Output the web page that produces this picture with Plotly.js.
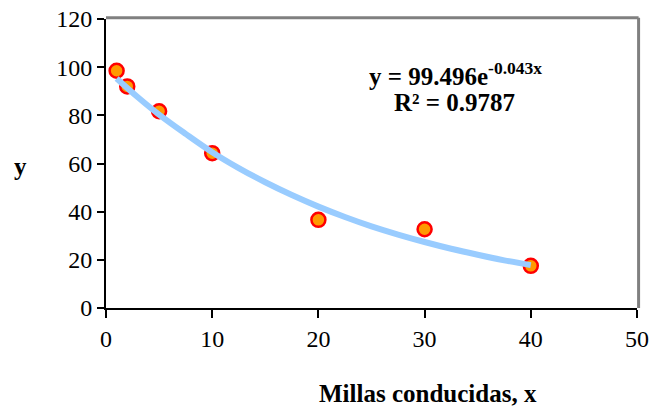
<!DOCTYPE html>
<html>
<head>
<meta charset="utf-8">
<script src="https://cdn.plot.ly/plotly-3.0.1.min.js"></script>
<style>html,body{margin:0;padding:0;background:#fff;}#chart{width:653px;height:411px;}</style>
</head>
<body>
<div id="chart"></div>
<script>
// Observed data points
var millas = [1, 2, 5, 10, 20, 30, 40];
var yValues = [98.5, 92, 81.7, 64.3, 36.6, 32.7, 17.5];
// Trendline (exponential fit shown on chart)
var trendX = [1, 3, 5, 7.5, 10, 12.5, 15, 17.5, 20, 22.5, 25, 27.5, 30, 32.5, 35, 37.5, 40];
var trendY = [95.3, 87.5, 80.3, 72.3, 64.7, 58.1, 52.2, 46.9, 42.1, 37.8, 33.9, 30.5, 27.4, 24.6, 22.1, 19.8, 17.8];
var xTicks = [0, 10, 20, 30, 40, 50];
var yTicks = [0, 20, 40, 60, 80, 100, 120];
var eqLine1 = "y = 99.496e<sup>-0.043x</sup>";
var eqLine2 = "R² = 0.9787";
var xTitle = "Millas conducidas, x";
var yTitle = "y";

var serif = "'Liberation Serif', 'Times New Roman', serif";

var traces = [
  {
    x: millas, y: yValues, type: "scatter", mode: "markers",
    marker: {size: 14, color: "#FF9900", line: {color: "#FF0000", width: 2.5}},
    hoverinfo: "x+y"
  },
  {
    x: trendX, y: trendY, type: "scatter", mode: "lines",
    line: {color: "#99CCFF", width: 6, shape: "spline"},
    hoverinfo: "skip"
  }
];

var layout = {
  width: 653, height: 411,
  margin: {l: 105.5, r: 15.5, t: 18.5, b: 102.7, pad: 0},
  paper_bgcolor: "#ffffff", plot_bgcolor: "#ffffff",
  showlegend: false,
  font: {family: serif, size: 24, color: "#000"},
  xaxis: {
    range: [0, 50], tickvals: xTicks, ticktext: xTicks.map(String),
    showgrid: false, zeroline: false,
    showline: true, linecolor: "#000", linewidth: 2,
    ticks: "outside", ticklen: 8, tickwidth: 2, tickcolor: "#000",
    tickfont: {family: serif, size: 24, color: "#000"},
    fixedrange: true
  },
  yaxis: {
    range: [0, 120], tickvals: yTicks, ticktext: yTicks.map(String),
    showgrid: false, zeroline: false,
    showline: true, linecolor: "#000", linewidth: 2,
    ticks: "outside", ticklen: 7, tickwidth: 2, tickcolor: "#000",
    tickfont: {family: serif, size: 24, color: "#000"},
    fixedrange: true
  },
  shapes: [
    {type: "line", xref: "paper", yref: "paper", x0: 0, x1: 1.003, y0: 1.004, y1: 1.004,
     line: {color: "#808080", width: 3}},
    {type: "line", xref: "paper", yref: "paper", x0: 1.003, x1: 1.003, y0: 0, y1: 1.004,
     line: {color: "#808080", width: 3}}
  ],
  annotations: [
    {text: "<b>" + eqLine1 + "</b>", xref: "paper", yref: "paper", x: 0.658, y: 0.81,
     xanchor: "center", yanchor: "middle", showarrow: false,
     font: {family: serif, size: 25, color: "#000"}},
    {text: "<b>" + eqLine2 + "</b>", xref: "paper", yref: "paper", x: 0.657, y: 0.71,
     xanchor: "center", yanchor: "middle", showarrow: false,
     font: {family: serif, size: 25, color: "#000"}},
    {text: "<b>" + xTitle + "</b>", xref: "paper", yref: "paper", x: 0.606, y: -0.295,
     xanchor: "center", yanchor: "middle", showarrow: false,
     font: {family: serif, size: 25, color: "#000"}},
    {text: "<b>" + yTitle + "</b>", xref: "paper", yref: "paper", x: -0.161, y: 0.49,
     xanchor: "center", yanchor: "middle", showarrow: false,
     font: {family: serif, size: 25, color: "#000"}}
  ]
};

Plotly.newPlot("chart", traces, layout, {displayModeBar: false, staticPlot: true});
</script>
</body>
</html>
